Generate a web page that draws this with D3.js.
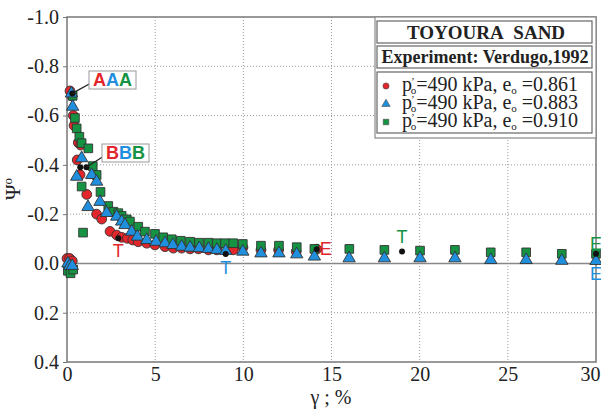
<!DOCTYPE html>
<html>
<head>
<meta charset="utf-8">
<script src="https://cdn.jsdelivr.net/npm/d3@7"></script>
<style>
	body { margin: 0; background: #fff; }
	svg { display: block; }
</style>
</head>
<body>
<script>
// strain gamma (%) and state parameter psi
var e0861 = [[0.0,-0.02],[0.15,-0.02],[0.3,-0.01],[0.17,-0.70],[0.28,-0.68],[0.36,-0.60],[0.4,-0.56],
	[0.64,-0.49],[0.78,-0.48],[0.58,-0.42],[0.74,-0.36],[1.12,-0.28],[1.68,-0.20],[1.97,-0.18],
	[2.44,-0.13],[2.82,-0.115],[3.1,-0.106],[3.42,-0.102],[3.73,-0.095],[4.04,-0.088],[4.52,-0.082],
	[4.99,-0.075],[5.56,-0.068],[6.03,-0.062],[6.5,-0.062],[6.98,-0.059],[7.45,-0.059],[8.02,-0.055],
	[8.5,-0.055],[9.43,-0.055],[9.98,-0.065],[11.0,-0.055],[12.0,-0.055],[13.0,-0.048],[14.16,-0.058]]

var e0883 = [[0.05,0.0],[0.15,0.01],[0.3,0.01],[0.25,-0.69],[0.32,-0.636],[0.83,-0.427],[0.55,-0.352],
	[1.4,-0.359],[1.68,-0.332],[1.87,-0.25],[1.19,-0.229],[2.25,-0.205],[2.82,-0.19],[3.1,-0.17],
	[3.29,-0.156],[3.67,-0.129],[3.99,-0.109],[4.52,-0.095],[5.05,-0.088],[5.56,-0.082],[6.0,-0.075],
	[6.5,-0.068],[6.98,-0.064],[7.5,-0.062],[8.02,-0.059],[8.5,-0.055],[9.0,-0.051],[9.97,-0.048],
	[11.0,-0.041],[12.02,-0.041],[13.03,-0.037],[14.03,-0.028],[16.0,-0.021],[18.0,-0.021],
	[20.02,-0.021],[22.0,-0.021],[24.03,-0.014],[26.04,-0.014],[28.06,-0.011],[30.0,-0.01]]

var e0910 = [[0.05,0.03],[0.2,0.04],[0.35,0.025],[0.32,-0.68],[0.45,-0.59],[0.55,-0.548],[0.7,-0.514],
	[0.83,-0.488],[1.21,-0.467],[1.46,-0.395],[1.68,-0.359],[0.83,-0.312],[1.9,-0.29],[0.91,-0.125],
	[2.34,-0.233],[2.63,-0.21],[2.91,-0.204],[3.1,-0.193],[3.39,-0.179],[3.57,-0.17],[4.04,-0.149],
	[4.42,-0.129],[4.99,-0.12],[5.46,-0.106],[5.94,-0.098],[6.45,-0.092],[6.98,-0.088],[7.49,-0.084],
	[8.02,-0.084],[8.49,-0.082],[8.96,-0.082],[9.43,-0.082],[9.97,-0.079],[11.0,-0.072],[12.02,-0.072],
	[13.03,-0.066],[14.03,-0.059],[16.01,-0.059],[18.0,-0.055],[20.02,-0.052],[22.0,-0.055],
	[24.03,-0.045],[26.04,-0.045],[28.06,-0.039],[30.0,-0.039]]

// characteristic points: A = peak, B, T = transformation, E = end
var pointsA = [[0.3,-0.69]]
var pointsB = [[0.75,-0.39],[1.1,-0.39]]
var pointsT = [[2.91,-0.102],[9.0,-0.038],[19.0,-0.048]]
var pointsE = [[14.16,-0.058],[30.0,-0.039]]
var labelsT = ['red','blue','green']

var xTicks = [0,5,10,15,20,25,30]
var yTicks = [-1.0,-0.8,-0.6,-0.4,-0.2,0.0,0.2,0.4]
var legendLabels = ['0.861','0.883','0.910']

var colors = { red: '#e3262b', blue: '#1f8fde', green: '#159343' }
var serif = "'Liberation Serif', 'Times New Roman', serif"
var sans = "'Liberation Sans', Arial, sans-serif"

var svg = d3.select('body').append('svg')
	.attr('width', 601)
	.attr('height', 411)

var x = d3.scaleLinear().domain([0,30]).range([67,596])
var y = d3.scaleLinear().domain([-1,0.4]).range([17,362])

// grid
svg.append('g').selectAll('line').data(xTicks.slice(1,-1)).enter().append('line')
	.attr('x1', function(d){ return x(d) }).attr('x2', function(d){ return x(d) })
	.attr('y1', y(-1)).attr('y2', y(0.4))
	.attr('stroke', '#999').attr('stroke-dasharray', '1,2')
svg.append('g').selectAll('line').data(yTicks.filter(function(d){ return d != 0 && d != -1 && d != 0.4 })).enter().append('line')
	.attr('x1', x(0)).attr('x2', x(30))
	.attr('y1', function(d){ return y(d) }).attr('y2', function(d){ return y(d) })
	.attr('stroke', '#999').attr('stroke-dasharray', '1,2')
svg.append('line')
	.attr('x1', x(0)).attr('x2', x(30)).attr('y1', y(0)).attr('y2', y(0))
	.attr('stroke', '#888').attr('stroke-width', 1.5)

// axes
var yAxis = svg.append('g').attr('transform', 'translate(' + x(0) + ',0)')
	.call(d3.axisLeft(y).tickValues(yTicks).tickSize(4).tickPadding(4))
yAxis.select('.domain').remove()
yAxis.selectAll('line').attr('stroke', '#777')
yAxis.selectAll('text').style('font-family', serif)
	.style('font-size', '20px').attr('fill', '#222')
	.text(function(d){ return d3.format('.1f')(d).replace('\u2212','-') })

var xAxis = svg.append('g').attr('transform', 'translate(0,' + y(0.4) + ')')
	.call(d3.axisBottom(x).tickValues(xTicks).tickSize(0).tickPadding(5))
xAxis.select('.domain').remove()
xAxis.selectAll('text').style('font-family', serif)
	.style('font-size', '20px').attr('fill', '#222')
	.attr('dx', function(d){ return d == 30 ? -6 : 0 })

svg.append('rect')
	.attr('x', x(0)).attr('y', y(-1))
	.attr('width', x(30) - x(0)).attr('height', y(0.4) - y(-1))
	.attr('fill', 'none').attr('stroke', '#777').attr('stroke-width', 1.5)

svg.append('text').style('font-family', serif)
	.attr('x', 331).attr('y', 404)
	.attr('text-anchor', 'middle')
	.style('font-size', '20px').attr('fill', '#222')
	.text('\u03b3 ; %')

var psiLabel = svg.append('text').style('font-family', serif)
	.attr('transform', 'translate(20,189) rotate(-90)')
	.attr('text-anchor', 'middle')
	.style('font-size', '21px').attr('fill', '#222')
psiLabel.append('tspan').text('\u03a8')
psiLabel.append('tspan').attr('dy', -8).style('font-size', '13px').text('o')

// data
function drawSeries(data, type, size, color){
	svg.append('g').selectAll('path').data(data).enter().append('path')
		.attr('d', d3.symbol().type(type).size(size))
		.attr('transform', function(d){ return 'translate(' + x(d[0]) + ',' + y(d[1]) + ')' })
		.attr('fill', color)
		.attr('stroke', '#333').attr('stroke-width', 0.9)
}
drawSeries(e0861, d3.symbolCircle, 75, colors.red)
drawSeries(e0910, d3.symbolSquare, 75, colors.green)
drawSeries(e0883, d3.symbolTriangle, 66, colors.blue)

var special = pointsA.concat(pointsB, pointsT, pointsE)
svg.append('g').selectAll('circle').data(special).enter().append('circle')
	.attr('cx', function(d){ return x(d[0]) })
	.attr('cy', function(d){ return y(d[1]) })
	.attr('r', 3)
	.attr('fill', '#111')

// T and E labels
var tOffsets = [[0,19],[0,20],[0,-9]]
svg.append('g').selectAll('text').data(pointsT).enter().append('text').style('font-family', sans)
	.attr('x', function(d,i){ return x(d[0]) + tOffsets[i][0] })
	.attr('y', function(d,i){ return y(d[1]) + tOffsets[i][1] })
	.attr('text-anchor', 'middle')
	.style('font-size', '18px')
	.attr('fill', function(d,i){ return colors[labelsT[i]] })
	.text('T')
svg.append('text').style('font-family', sans)
	.attr('x', x(pointsE[0][0]) + 3).attr('y', y(pointsE[0][1]) + 6)
	.style('font-size', '18px').attr('fill', colors.red).text('E')
svg.append('text').style('font-family', sans)
	.attr('x', x(30)).attr('y', y(pointsE[1][1]) - 4)
	.attr('text-anchor', 'middle')
	.style('font-size', '18px').attr('fill', colors.green).text('E')
svg.append('text').style('font-family', sans)
	.attr('x', x(30)).attr('y', y(0) + 17)
	.attr('text-anchor', 'middle')
	.style('font-size', '18px').attr('fill', colors.blue).text('E')

// AAA and BBB callouts
function callout(pt, bx, by, letter){
	svg.append('line')
		.attr('x1', x(pt[0])).attr('y1', y(pt[1]))
		.attr('x2', bx + 2).attr('y2', by + 12)
		.attr('stroke', '#222').attr('stroke-width', 1.3)
	svg.append('rect')
		.attr('x', bx).attr('y', by).attr('width', 47).attr('height', 18)
		.attr('fill', '#fff').attr('stroke', '#999')
	var t = svg.append('text').style('font-family', sans)
		.attr('x', bx + 23.5).attr('y', by + 15)
		.attr('text-anchor', 'middle')
		.style('font-size', '18px').attr('font-weight', 'bold')
	t.append('tspan').attr('fill', colors.red).text(letter)
	t.append('tspan').attr('fill', colors.blue).text(letter)
	t.append('tspan').attr('fill', colors.green).text(letter)
}
callout(pointsA[0], 89, 71, 'A')
callout(pointsB[1], 102, 144, 'B')

// legend
var lg = svg.append('g')
lg.append('rect').attr('x', 375).attr('y', 17).attr('width', 221).attr('height', 121)
	.attr('fill', '#fff').attr('stroke', '#888').attr('stroke-width', 1.2)
lg.append('rect').attr('x', 377).attr('y', 21).attr('width', 215).attr('height', 22)
	.attr('fill', 'none').attr('stroke', '#666').attr('stroke-width', 1.2)
lg.append('rect').attr('x', 377).attr('y', 46).attr('width', 215).attr('height', 22)
	.attr('fill', 'none').attr('stroke', '#666').attr('stroke-width', 1.2)
lg.append('rect').attr('x', 377).attr('y', 72).attr('width', 215).attr('height', 61)
	.attr('fill', 'none').attr('stroke', '#666').attr('stroke-width', 1.2)
lg.append('text').style('font-family', serif).attr('x', 486).attr('y', 39).attr('text-anchor', 'middle')
	.style('font-size', '19px').style('word-spacing', '6px').attr('font-weight', 'bold').attr('fill', '#222')
	.text('TOYOURA SAND')
lg.append('text').style('font-family', serif).attr('x', 485).attr('y', 63).attr('text-anchor', 'middle')
	.style('font-size', '18px').attr('font-weight', 'bold').attr('fill', '#222')
	.text('Experiment: Verdugo,1992')

var legendTypes = [d3.symbolCircle, d3.symbolTriangle, d3.symbolSquare]
var legendColors = [colors.red, colors.blue, colors.green]
legendLabels.forEach(function(v, i){
	var cy = 85 + i * 18
	lg.append('path')
		.attr('d', d3.symbol().type(legendTypes[i]).size(30))
		.attr('transform', 'translate(386,' + (cy + 1) + ')')
		.attr('fill', legendColors[i]).attr('stroke', '#444').attr('stroke-width', 0.6)
	var t = lg.append('text').style('font-family', serif).attr('x', 402).attr('y', cy + 6)
		.style('font-size', '20px').attr('fill', '#222')
	t.append('tspan').text('p')
	t.append('tspan').attr('dx', -1).attr('dy', -6).style('font-size', '11px').text('\u2019')
	t.append('tspan').attr('dx', -4).attr('dy', 9).style('font-size', '11px').text('o')
	t.append('tspan').attr('dy', -3).text('=490 kPa, e')
	t.append('tspan').attr('dy', 3).style('font-size', '11px').text('o')
	t.append('tspan').attr('dy', -3).text(' =' + v)
})
</script>
</body>
</html>
